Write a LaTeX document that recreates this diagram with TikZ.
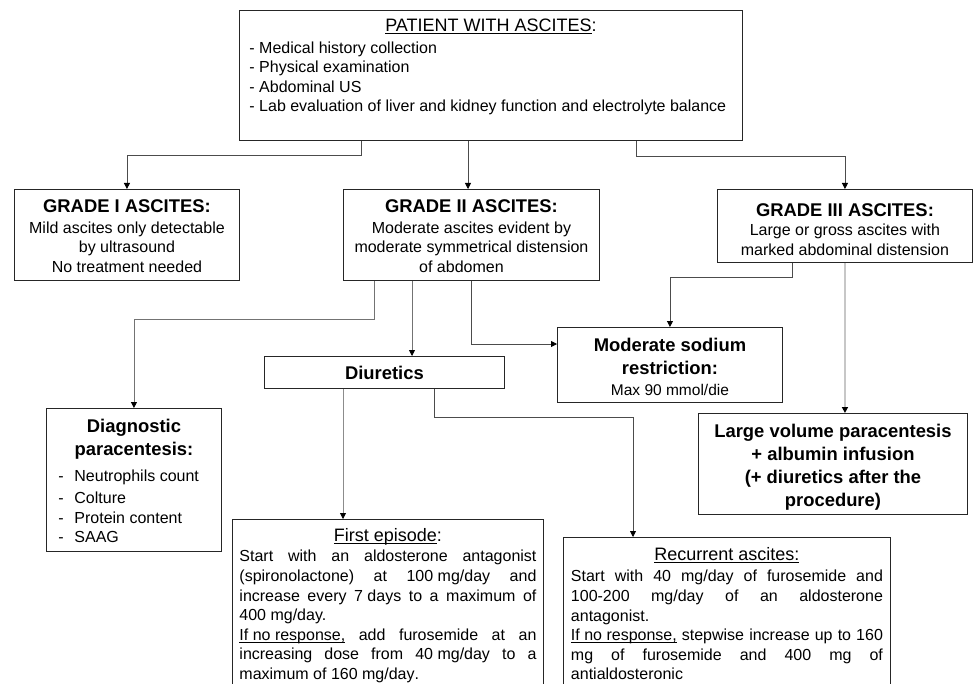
\documentclass[tikz,border=0pt]{standalone}
\usepackage{fontspec}
\setmainfont{Liberation Sans}
\usetikzlibrary{arrows.meta}
\newcommand{\fn}{\fontsize{16}{19.6}\selectfont}
\newcommand{\ft}{\fontsize{18.4}{23}\selectfont\bfseries}
\newcommand{\fu}{\fontsize{18}{22}\selectfont}
\newcommand{\fs}{\fontsize{15.5}{21}\selectfont}
\newcommand{\st}{\rule{0pt}{16pt}}
\newcommand{\uln}[1]{\leavevmode\setbox0\hbox{#1}\rlap{\rule[-2.2pt]{\wd0}{0.9pt}}\box0\relax}
\newcommand{\itm}{\hspace*{6pt}\makebox[16pt][l]{-}}
\newcommand{\bt}[4]{\begin{minipage}[t][#2][t]{#1}\tolerance=10000\hbadness=10000\hyphenpenalty=10000\vspace*{#3}#4\end{minipage}}
\begin{document}
\begin{tikzpicture}[x=1pt,y=-1pt,
  bx/.style={draw=black!85, line width=0.9pt, inner xsep=#1, inner ysep=0pt, anchor=north west},
  bx/.default=6pt,
  conn/.style={draw=black!70, line width=0.8pt, -{Triangle[width=6pt,length=6pt,color=black]}}]
\useasboundingbox (0,0) rectangle (973,684);
% boxes
\node[bx=10pt] (top) at (239,10) {\bt{483pt}{130pt}{5.4pt}{{\centering\fu\st\uln{PATIENT WITH ASCITES}:\par}\vspace{1.6pt}\fn - Medical history collection\\- Physical examination\\- Abdominal US\\- Lab evaluation of liver and kidney function and electrolyte balance\par}};
\node[bx] (g1) at (14,189) {\bt{213pt}{91pt}{6.6pt}{\centering{\ft\st GRADE I ASCITES:\par}\vspace{1.5pt}\fn Mild ascites only detectable\\by ultrasound\\No treatment needed\par}};
\node[bx] (g2) at (343,189) {\bt{244pt}{91pt}{6.6pt}{\centering{\ft\st GRADE II ASCITES:\par}\vspace{1.5pt}\fn Moderate ascites evident by\\moderate symmetrical distension\\of abdomen\hspace*{20pt}\par}};
\node[bx] (g3) at (717,189) {\bt{243pt}{73pt}{10.6pt}{\centering{\ft\st GRADE III ASCITES:\par}\fn Large or gross ascites with\\marked abdominal distension\par}};
\node[bx] (ms) at (557,327) {\bt{213pt}{75pt}{7.6pt}{\centering{\ft\st Moderate sodium\\restriction:\par}{\fs Max 90 mmol/die\par}}};
\node[bx] (di) at (264,356) {\bt{228pt}{32pt}{6.6pt}{\centering\ft\st Diuretics\par}};
\node[bx] (dp) at (46,408) {\bt{163pt}{143pt}{7.6pt}{{\centering\ft\st Diagnostic\\paracentesis:\par}\vspace{6.5pt}\fn\raggedright\itm Neutrophils count\\[2.7pt]\itm Colture\\\itm Protein content\\\itm SAAG\par}};
\node[bx] (lv) at (698,413) {\bt{257pt}{101pt}{7.6pt}{\centering\ft\st Large volume paracentesis\\+ albumin infusion\\(+ diuretics after the\\procedure)\par}};
\node[bx=7pt] (fe) at (232,519) {\bt{297pt}{190pt}{6.4pt}{{\centering\fu\st\uln{First episode}:\par}\vspace{0.4pt}\fn Start with an aldosterone antagonist\linebreak (spironolactone) at \mbox{100 mg/day} and\linebreak increase every \mbox{7 days} to a maximum of\linebreak 400 mg/day.\par\uln{If no response,} add furosemide at an\linebreak increasing dose from \mbox{40 mg/day} to a\linebreak maximum of \mbox{160 mg/day}.\par}};
\node[bx=7.5pt] (ra) at (563,537) {\bt{312pt}{170pt}{7.4pt}{{\centering\fu\st\uln{Recurrent ascites:}\par}\vspace{1.4pt}\fn Start with 40 mg/day of furosemide and\linebreak 100-200 mg/day of an aldosterone\linebreak antagonist.\par\uln{If no response,} stepwise increase up to 160\linebreak mg of furosemide and 400 mg of\linebreak antialdosteronic\par}};
% connectors
\coordinate (t1) at ([xshift=122pt]top.south west);
\draw[conn] (t1) -- ++(0,15) -| (g1.north);
\coordinate (t2) at ([xshift=229pt]top.south west);
\draw[conn] (t2) -- (t2 |- g2.north);
\coordinate (t3) at ([xshift=397pt]top.south west);
\draw[conn] (t3) -- ++(0,16) -| (g3.north);
\coordinate (a1) at ([xshift=31pt]g2.south west);
\draw[conn, draw=black!55] (a1) -- ++(0,38) -| (dp.north);
\coordinate (a2) at ([xshift=69pt]g2.south west);
\draw[conn, draw=black!55] (a2) -- (a2 |- di.north);
\coordinate (a3) at ([xshift=128pt]g2.south west);
\coordinate (a3e) at ([yshift=-17pt]ms.north west);
\draw[conn] (a3) |- (a3e);
\coordinate (b1) at ([xshift=75pt]g3.south west);
\draw[conn] (b1) -- ++(0,15) -| (ms.north);
\draw[conn, draw=black!22, line width=1.6pt] (g3.south) -- (g3.south |- lv.north);
\coordinate (c1) at ([xshift=79pt]di.south west);
\draw[conn, draw=black!45] (c1) -- (c1 |- fe.north);
\coordinate (c2) at ([xshift=170pt]di.south west);
\coordinate (c2e) at ([xshift=70pt]ra.north west);
\draw[conn] (c2) -- ++(0,28) -| (c2e);
\end{tikzpicture}
\end{document}
